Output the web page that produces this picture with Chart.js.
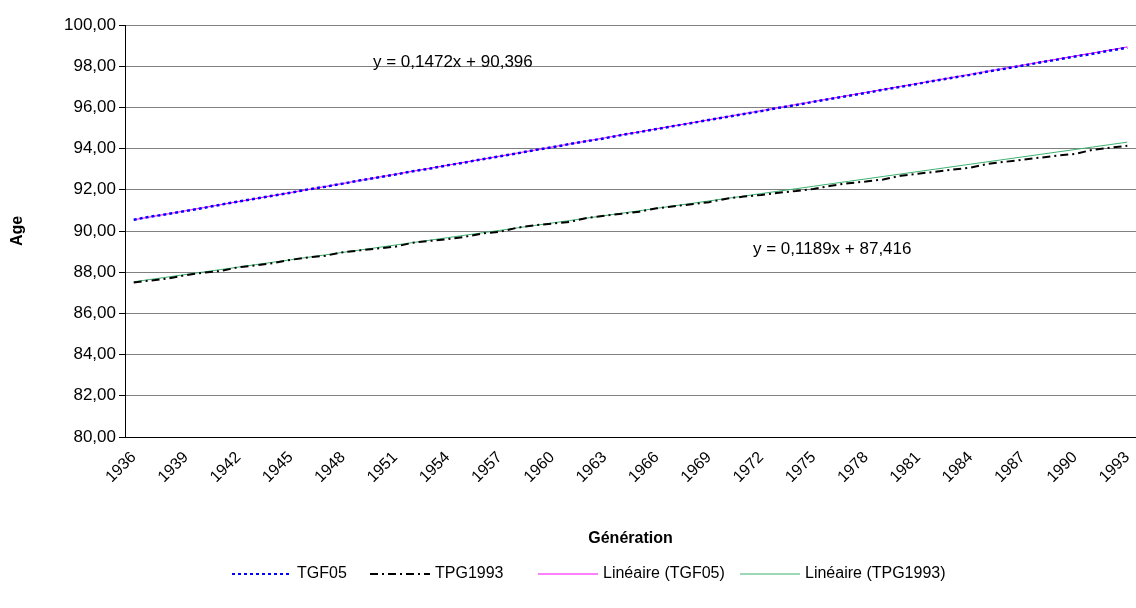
<!DOCTYPE html>
<html><head><meta charset="utf-8">
<script src="https://cdn.jsdelivr.net/npm/chart.js@4"></script>
<style>body{margin:0;background:#fff}#w{width:1136px;height:608px}</style>
</head><body><div id="w"><canvas id="c"></canvas></div>
<script>
const years = []; for (let y = 1936; y <= 1993; y++) years.push(String(y));
const tgf05 = [90.55,90.70,90.83,90.98,91.12,91.28,91.43,91.57,91.72,91.86,
92.02,92.15,92.30,92.46,92.60,92.74,92.90,93.03,93.19,93.33,
93.48,93.63,93.77,93.93,94.06,94.22,94.36,94.50,94.66,94.80,
94.95,95.10,95.24,95.39,95.53,95.68,95.82,95.98,96.12,96.27,
96.42,96.56,96.70,96.86,97.00,97.15,97.30,97.44,97.58,97.74,
97.88,98.03,98.18,98.32,98.47,98.60,98.76,98.90];
const tpg1993 = [87.50,87.60,87.70,87.86,87.98,88.06,88.24,88.33,88.44,88.60,
88.72,88.80,88.97,89.06,89.15,89.24,89.43,89.52,89.60,89.72,
89.88,89.96,90.16,90.28,90.36,90.44,90.63,90.74,90.84,90.94,
91.10,91.20,91.30,91.40,91.57,91.67,91.75,91.86,91.94,92.04,
92.20,92.32,92.40,92.50,92.68,92.78,92.88,92.98,93.08,93.26,
93.36,93.46,93.56,93.66,93.74,93.94,94.04,94.14];
const trendA = [0.1472, 90.396], trendB = [0.1189, 87.416];
const linA = years.map((_, i) => trendA[0]*(i+1)+trendA[1]);
const linB = years.map((_, i) => trendB[0]*(i+1)+trendB[1]);
const F = "'Liberation Sans', Arial, sans-serif";
const legendItems = [
 {t:'TGF05', c:'#0000ff', d:[3,3], w:2, x:232},
 {t:'TPG1993', c:'#000000', d:[8,4,2,4], w:2, x:370},
 {t:'Linéaire (TGF05)', c:'#ff00ff', d:[], w:1, x:538},
 {t:'Linéaire (TPG1993)', c:'#3cb371', d:[], w:1, x:740}];
const extra = {id:'extra', afterDraw(ch){
  const x = ch.ctx; x.save();
  x.font = "17px " + F; x.fillStyle = '#000'; x.textBaseline = 'middle';
  x.fillText('y = 0,1472x + 90,396', 373, 62);
  x.fillText('y = 0,1189x + 87,416', 753, 249);
  x.font = "16px " + F;
  legendItems.forEach(it => {
    const px = it.x;
    x.strokeStyle = it.c; x.lineWidth = it.w; x.setLineDash(it.d);
    x.beginPath(); x.moveTo(px, 574); x.lineTo(px + 60, 574); x.stroke();
    x.setLineDash([]);
    x.fillText(it.t, px + 65, 574);
  });
  x.restore();
}};
new Chart(document.getElementById('c'), {
 type:'line',
 data:{labels:years, datasets:[
  {label:'TGF05', data:tgf05, borderColor:'#0000ff', borderWidth:2.5, borderDash:[3,3], pointRadius:0, tension:0},
  {label:'TPG1993', data:tpg1993, borderColor:'#000', borderWidth:2, borderDash:[8,4,2,4], pointRadius:0, tension:0},
  {label:'Linéaire (TGF05)', data:linA, borderColor:'#ff00ff', borderWidth:1, pointRadius:0},
  {label:'Linéaire (TPG1993)', data:linB, borderColor:'#3cb371', borderWidth:1, pointRadius:0}]},
 options:{responsive:true, maintainAspectRatio:false, animation:false,
  layout:{padding:{left:4, right:0, top:25, bottom:0}},
  plugins:{legend:{display:false}, tooltip:{enabled:false}},
  scales:{
   x:{offset:true, grid:{display:false}, border:{color:'#000'},
      afterFit:s=>{s.height = 171; s.paddingRight = 0;},
      ticks:{autoSkip:false, maxRotation:45, minRotation:45, color:'#000', font:{family:F, size:16},
        callback:(v,i)=> i%3===0 ? years[i] : ''},
      title:{display:true, text:'Génération', color:'#000', font:{family:F, size:16, weight:'bold'}, padding:{top:0,bottom:60}}},
   y:{min:80, max:100, afterFit:s=>{s.width = 121;},
      ticks:{stepSize:2, color:'#000', font:{family:F, size:17},
        callback:v=>v.toFixed(2).replace('.',',')},
      grid:{color:'#808080', tickColor:'#000', drawTicks:true, tickLength:6}, border:{color:'#000'},
      title:{display:true, text:'Age', color:'#000', font:{family:F, size:16, weight:'bold'}}}}},
 plugins:[extra]});
</script></body></html>
